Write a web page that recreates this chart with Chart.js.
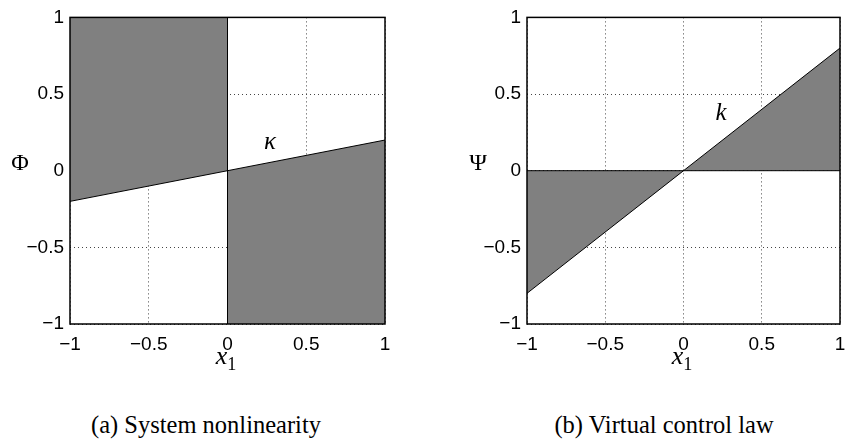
<!DOCTYPE html>
<html>
<head>
<meta charset="utf-8">
<script src="https://cdn.jsdelivr.net/npm/chart.js@4.4.0/dist/chart.umd.min.js"></script>
<style>
  body { margin: 0; background: #fff; width: 846px; height: 445px; position: relative; overflow: hidden; }
  canvas { position: absolute; top: 0; }
  .lbl { position: absolute; transform: translate(-50%, -50%); font-family: "Liberation Serif", serif; color: #000; white-space: nowrap; }
  .it { font-style: italic; }
  sub { font-style: normal; font-size: 70%; vertical-align: -0.3em; }
</style>
</head>
<body>
<canvas id="left" width="400" height="370" style="left:0px"></canvas>
<canvas id="right" width="398" height="370" style="left:457px"></canvas>

<div class="lbl" style="left:20px; top:162px; font-size:24px">Φ</div>
<div class="lbl" style="left:478px; top:162px; font-size:24px">Ψ</div>
<div class="lbl it" style="left:226px; top:358px; font-size:26px">x<sub>1</sub></div>
<div class="lbl it" style="left:682px; top:358px; font-size:26px">x<sub>1</sub></div>
<div class="lbl it" style="left:270px; top:141px; font-size:25px">κ</div>
<div class="lbl it" style="left:721px; top:112px; font-size:25px">k</div>
<div class="lbl" style="left:206px; top:425px; font-size:24.5px">(a) System nonlinearity</div>
<div class="lbl" style="left:664px; top:425px; font-size:24.5px">(b) Virtual control law</div>

<script>
const tickValues = [-1, -0.5, 0, 0.5, 1];
const tickText = ['−1', '−0.5', '0', '0.5', '1'];

// left panel: Phi = kappa * x1
const xNeg = [-1, 0];
const xPos = [0, 1];
const phiNeg = [-0.2, 0];
const phiPos = [0, 0.2];
const phiFull = [-0.2, 0.2];
const switchX = [0, 0];
const switchY = [-1, 1];

// right panel: Psi = k * x1
const psiNeg = [-0.8, 0];
const psiPos = [0, 0.8];
const psiFull = [-0.8, 0.8];
const xFull = [-1, 1];
const zeroLine = [0, 0];

const shade = '#808080';

function pts(xs, ys) {
  return xs.map((x, i) => ({ x: x, y: ys[i] }));
}

function fillSet(xs, ys, fill) {
  return { data: pts(xs, ys), fill: fill, backgroundColor: shade, borderWidth: 0, pointRadius: 0, order: 2 };
}

function lineSet(xs, ys) {
  return { data: pts(xs, ys), fill: false, borderColor: '#000', borderWidth: 1, pointRadius: 0, order: 1 };
}

const boxPlugin = {
  id: 'box',
  afterDraw(chart) {
    const a = chart.chartArea, ctx = chart.ctx;
    ctx.save();
    ctx.strokeStyle = '#000';
    ctx.lineWidth = 1.5;
    ctx.strokeRect(a.left, a.top, a.right - a.left, a.bottom - a.top);
    ctx.restore();
  }
};

function axis(isY) {
  return {
    type: 'linear',
    min: -1,
    max: 1,
    afterFit(s) { if (isY) s.width = 70; else s.height = 46; },
    border: { display: false, dash: [1, 3] },
    grid: { color: '#444', lineWidth: 1, drawTicks: false },
    ticks: {
      stepSize: 0.5,
      padding: isY ? 6 : 9,
      color: '#000',
      font: { family: 'Liberation Sans', size: 19 },
      maxRotation: 0,
      autoSkip: false,
      callback: v => tickText[tickValues.indexOf(v)]
    }
  };
}

function makeChart(id, datasets, padRight) {
  new Chart(document.getElementById(id), {
    type: 'line',
    data: { datasets: datasets },
    options: {
      responsive: false,
      animation: false,
      devicePixelRatio: 1,
      layout: { padding: { left: 0, right: padRight, top: 11, bottom: 0 } },
      plugins: { legend: { display: false }, tooltip: { enabled: false } },
      scales: { x: axis(false), y: axis(true) }
    },
    plugins: [boxPlugin]
  });
}

makeChart('left', [
  fillSet(xNeg, phiNeg, 'end'),
  fillSet(xPos, phiPos, 'start'),
  lineSet(xFull, phiFull),
  lineSet(switchX, switchY)
], 15);

makeChart('right', [
  fillSet(xNeg, psiNeg, 'origin'),
  fillSet(xPos, psiPos, 'origin'),
  lineSet(xFull, psiFull),
  lineSet(xFull, zeroLine)
], 15);
</script>
</body>
</html>
